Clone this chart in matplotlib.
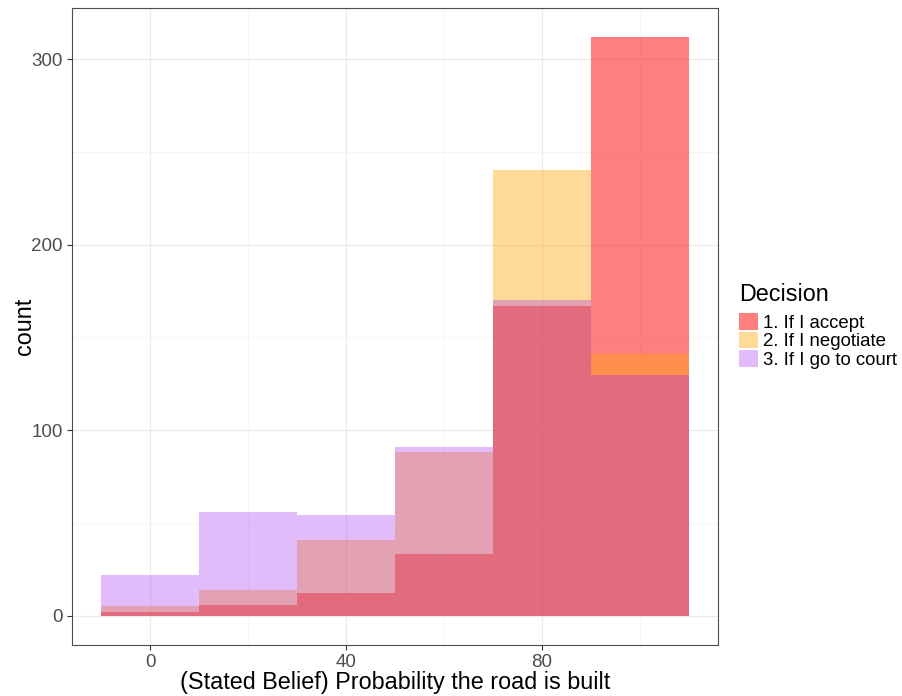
import matplotlib
matplotlib.use("Agg")
import matplotlib.pyplot as plt
import matplotlib.transforms as mtransforms
from matplotlib.patches import Patch
from matplotlib.ticker import MultipleLocator

plt.rcParams['font.family'] = ['Liberation Sans', 'DejaVu Sans']

bin_centers = [0, 20, 40, 60, 80, 100]
bin_width = 20
accept = [2, 6, 12, 33, 167, 312]
negotiate = [5, 14, 41, 88, 240, 141]
court = [22, 56, 54, 91, 170, 130]

series_labels = ["1. If I accept", "2. If I negotiate", "3. If I go to court"]
series_colors = ["#FF0000", "#FFA500", "#A020F0"]
series_alpha = [0.5, 0.4, 0.3]
x_ticks = [0, 40, 80]
y_ticks = [0, 100, 200, 300]

fig = plt.figure(figsize=(9.02, 6.96), dpi=100)
ax = fig.add_axes([72/902, 1-644.6/696, (718-72)/902, (644.6-8)/696])

for vals, col, a in zip([accept, negotiate, court], series_colors, series_alpha):
    ax.bar(bin_centers, vals, width=bin_width, color=col, alpha=a,
           linewidth=0, edgecolor='none', zorder=2)

lo = bin_centers[0] - bin_width/2
hi = bin_centers[-1] + bin_width/2
pad = (hi - lo) * 0.05
ax.set_xlim(lo - pad, hi + pad)
ymax = max(max(accept), max(negotiate), max(court))
ax.set_ylim(-ymax*0.05, ymax*1.05)

ax.set_xticks(x_ticks)
ax.set_yticks(y_ticks)
ax.xaxis.set_minor_locator(MultipleLocator(20))
ax.yaxis.set_minor_locator(MultipleLocator(50))
ax.grid(which='major', color='#EBEBEB', linewidth=0.9, zorder=0)
ax.grid(which='minor', color='#F3F3F3', linewidth=0.5, zorder=0)
ax.set_axisbelow(True)

for s in ax.spines.values():
    s.set_color('#4D4D4D')
    s.set_linewidth(0.8)

ax.tick_params(which='major', length=3.5, width=0.8, color='#333333',
               labelsize=13.5, labelcolor='#4D4D4D', pad=3)
ax.tick_params(which='minor', length=0)

ax.set_xlabel("(Stated Belief) Probability the road is built", fontsize=16.8,
              color='black', labelpad=0)
ax.set_ylabel("count", fontsize=16.8, color='black')
ax.yaxis.set_label_coords(36/902, 0.5,
                          transform=mtransforms.blended_transform_factory(fig.transFigure, ax.transAxes))

handles = [Patch(facecolor=c, alpha=a, edgecolor='none', label=l)
           for c, a, l in zip(series_colors, series_alpha, series_labels)]
leg = fig.legend(handles=handles, title="Decision", loc='center left',
                 bbox_to_anchor=(739/902, 1-326/696), frameon=False,
                 fontsize=13.4, title_fontsize=16.8, handlelength=1.02,
                 handleheight=1.0, handletextpad=0.28, labelspacing=0.0,
                 borderaxespad=0, borderpad=0)
leg._legend_box.align = "left"
leg._legend_box.sep = 5

fig.savefig("out.png", dpi=100)
